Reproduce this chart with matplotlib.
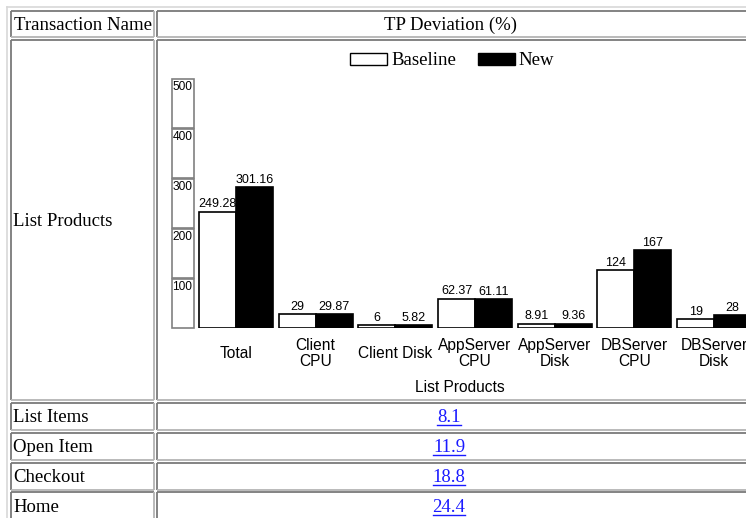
import matplotlib.pyplot as plt
import matplotlib.transforms as mtransforms
from matplotlib.patches import Rectangle

# bar chart data for the "List Products" transaction
categories = ["Total", "Client\nCPU", "Client Disk", "AppServer\nCPU",
              "AppServer\nDisk", "DBServer\nCPU", "DBServer\nDisk"]
baseline = [249.28, 29, 6, 62.37, 8.91, 124, 19]
new = [301.16, 29.87, 5.82, 61.11, 9.36, 167, 28]
scale_ticks = [100, 200, 300, 400, 500]

# remaining rows of the table
row_names = ["List Items", "Open Item", "Checkout", "Home"]
row_values = [8.1, 11.9, 18.8, 24.4]

W, H = 746, 518
SERIF = ["Liberation Serif", "DejaVu Serif"]
SANS = ["Liberation Sans", "DejaVu Sans"]
LINK = "#1a1aff"

fig = plt.figure(figsize=(W / 100, H / 100), dpi=100)
tab = fig.add_axes([0, 0, 1, 1])
tab.set_xlim(0, W)
tab.set_ylim(H, 0)
tab.axis("off")


def cell(x0, y0, x1, y1):
    # sunken html-style cell border
    tab.plot([x0, x1], [y0, y0], color="#7a7a7a", lw=1.3, solid_capstyle="butt")
    tab.plot([x0, x0], [y0, y1], color="#7a7a7a", lw=1.3, solid_capstyle="butt")
    tab.plot([x0, x1], [y1, y1], color="#b4b4b4", lw=1.3, solid_capstyle="butt")
    tab.plot([x1, x1], [y0, y1], color="#b4b4b4", lw=1.3, solid_capstyle="butt")


# outer table frame
tab.plot([7, W], [7, 7], color="#d8d8d8", lw=1.2)
tab.plot([7, 7], [7, H], color="#d8d8d8", lw=1.2)

rows = [(11, 37), (40, 400), (403, 430), (433, 460), (463, 490), (492, 521)]
for y0, y1 in rows:
    cell(11, y0, 154, y1)
    cell(157, y0, W + 5, y1)

txt = dict(family=SERIF, fontsize=13.5, va="baseline")
tab.text(14, 30, "Transaction Name", ha="left", **txt)
tab.text(451, 30, "TP Deviation (%)", ha="center", **txt)
tab.text(13, 226, "List Products", ha="left", **txt)

# legend
tab.add_patch(Rectangle((350, 53), 37, 12, facecolor="white", edgecolor="black", lw=1))
tab.text(391, 65, "Baseline", ha="left", **txt)
tab.add_patch(Rectangle((478, 53), 37, 12, facecolor="black", edgecolor="black", lw=1))
tab.text(518, 65, "New", ha="left", **txt)

link_texts = []
for (y0, y1), name, val in zip(rows[2:], row_names, row_values):
    yb = (y0 + y1) / 2 + 6
    tab.text(13, yb, name, ha="left", **txt)
    t = tab.text(449, yb, f"{val:g}", ha="center", color=LINK, **txt)
    link_texts.append((t, yb))

# bar chart
x_left, y_zero, plot_h, pitch = 195, 328, 250, 79.7
ax = fig.add_axes([x_left / W, (H - y_zero) / H, (W - x_left) / W, plot_h / H])
ax.set_xlim(-0.05, -0.05 + (W - x_left) / pitch)
ax.set_ylim(0, 535)
ax.axis("off")

bw = 0.464
xs = list(range(len(categories)))
ax.bar([x + bw / 2 for x in xs], baseline, width=bw, color="white",
       edgecolor="black", lw=1.2)
ax.bar([x + 1.5 * bw for x in xs], new, width=bw, color="black",
       edgecolor="black", lw=1.2)

for x, b, n in zip(xs, baseline, new):
    ax.annotate(f"{b:g}", (x + bw / 2, b), xytext=(0, 1), textcoords="offset points",
                ha="center", va="bottom", family=SANS, fontsize=9, annotation_clip=False)
    ax.annotate(f"{n:g}", (x + 1.5 * bw, n), xytext=(0, 1), textcoords="offset points",
                ha="center", va="bottom", family=SANS, fontsize=9, annotation_clip=False)

trans = mtransforms.blended_transform_factory(ax.transData, ax.transAxes)
for x, cat in zip(xs, categories):
    ax.text(x + bw, -0.103, cat, transform=trans, ha="center", va="center",
            family=SANS, fontsize=11.2, linespacing=1.12, clip_on=False)

tab.text(460, 387, "List Products", ha="center", va="center", family=SANS, fontsize=11.2)

# stacked scale boxes on the left
box_h = plot_h / len(scale_ticks)
for v in scale_ticks:
    top = y_zero - plot_h * v / max(scale_ticks)
    tab.add_patch(Rectangle((172, top + 1), 22, box_h - 1, facecolor="white",
                            edgecolor="#808080", lw=1.2))
    tab.text(172.5, top + 2.5, str(v), ha="left", va="top", family=SANS, fontsize=8.6)

# underline the link values
fig.canvas.draw()
inv = tab.transData.inverted()
for t, yb in link_texts:
    bb = t.get_window_extent()
    (x0, _), (x1, _) = inv.transform([[bb.x0, bb.y0], [bb.x1, bb.y1]])
    tab.plot([x0, x1], [yb + 2, yb + 2], color=LINK, lw=1)

fig.savefig("out.png", dpi=100)
